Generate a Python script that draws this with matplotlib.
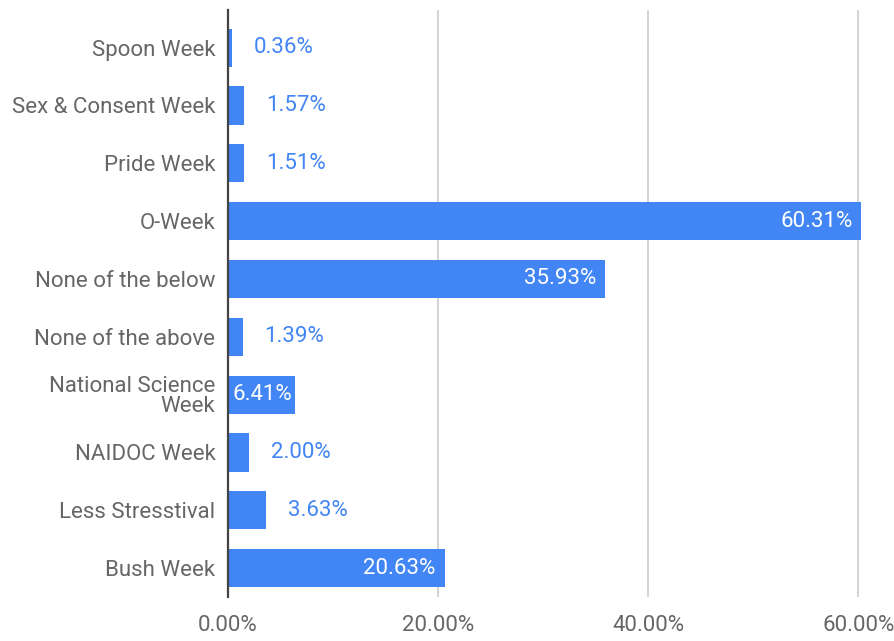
import matplotlib
matplotlib.use("Agg")
import matplotlib.pyplot as plt
from matplotlib.ticker import FuncFormatter

categories = ["Spoon Week", "Sex & Consent Week", "Pride Week", "O-Week",
              "None of the below", "None of the above", "National Science\nWeek",
              "NAIDOC Week", "Less Stresstival", "Bush Week"]
values = [0.36, 1.57, 1.51, 60.31, 35.93, 1.39, 6.41, 2.00, 3.63, 20.63]
xticks = [0, 20, 40, 60]

plt.rcParams['font.family'] = ['Roboto', 'DejaVu Sans']
blue = "#4285F4"
gray = "#666666"

fig = plt.figure(figsize=(8.95, 6.41), dpi=100)
ax = fig.add_axes([228/895, 1-597/641, 1-228/895, (597-10)/641])

ypos = list(range(len(categories)))
ax.barh(ypos, values, height=0.66, color=blue, zorder=3)
ax.set_ylim(len(categories)-0.5, -0.65)
ax.set_xlim(0, 63.5)
ax.set_yticks(ypos)
ax.set_yticklabels(categories, fontsize=16, color=gray, linespacing=0.95)
ax.set_xticks(xticks)
ax.xaxis.set_major_formatter(FuncFormatter(lambda v, p: f"{v:.2f}%"))
ax.tick_params(axis='x', labelsize=16, labelcolor=gray, length=0, pad=13)
ax.tick_params(axis='y', length=0, pad=9)
for s in ["top", "right", "bottom"]:
    ax.spines[s].set_visible(False)
ax.spines["left"].set_color("#444444")
ax.spines["left"].set_linewidth(1.6)
ax.spines["left"].set_zorder(5)
ax.grid(axis='x', color="#cccccc", linewidth=1.2, zorder=0)

scale = 63.5 / (895 - 228)
for y, v in zip(ypos, values):
    lbl = f"{v:.2f}%"
    if v > 5:
        gap = 9 if v > 10 else 3
        ax.text(v - gap*scale, y, lbl, ha='right', va='center', color='white', fontsize=16, zorder=4)
    else:
        ax.text(v + 22*scale, y, lbl, ha='left', va='center', color=blue, fontsize=16, zorder=4)

fig.savefig("out.png", dpi=100)
